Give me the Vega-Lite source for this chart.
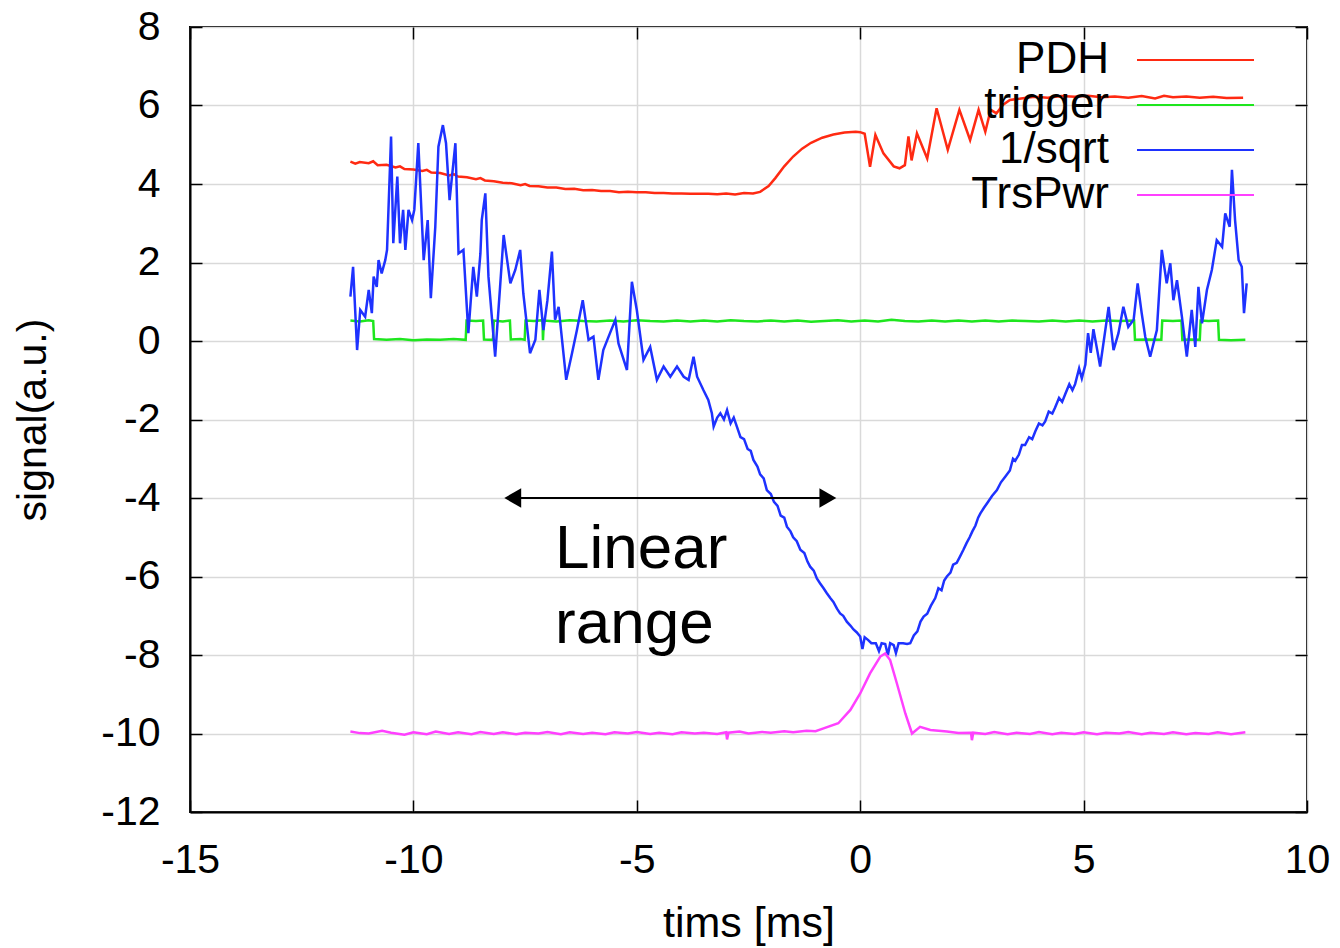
{
"$schema": "https://vega.github.io/schema/vega-lite/v6.json",
"width": 1117, "height": 785,
"autosize": {"type": "none"},
"padding": {"left": 190, "top": 27, "right": 33, "bottom": 136},
"background": "white",
"config": {
  "font": "Liberation Sans",
  "view": {"stroke": "black", "strokeWidth": 2},
  "axis": {"labelFont": "Liberation Sans", "labelFontSize": 41, "labelColor": "black", "titleFont": "Liberation Sans", "titleFontWeight": "normal", "titleColor": "black", "tickColor": "black", "tickWidth": 1.5, "tickSize": -12, "domainColor": "black", "domainWidth": 2, "gridColor": "#d9d9d9", "gridWidth": 1.5, "labelFlush": false, "labelOverlap": false, "labelBound": false, "labelExpr": "'' + datum.value"}
},
"data": {"values": [
{"s":"PDH","t":-11.41,"v":4.57},{"s":"PDH","t":-11.3,"v":4.52},{"s":"PDH","t":-11.2,"v":4.56},{"s":"PDH","t":-11.0,"v":4.53},{"s":"PDH","t":-10.9,"v":4.58},{"s":"PDH","t":-10.8,"v":4.48},{"s":"PDH","t":-10.6,"v":4.49},{"s":"PDH","t":-10.4,"v":4.42},{"s":"PDH","t":-10.3,"v":4.45},{"s":"PDH","t":-10.2,"v":4.38},{"s":"PDH","t":-10.0,"v":4.37},{"s":"PDH","t":-9.8,"v":4.33},{"s":"PDH","t":-9.7,"v":4.36},{"s":"PDH","t":-9.6,"v":4.29},{"s":"PDH","t":-9.4,"v":4.28},{"s":"PDH","t":-9.2,"v":4.22},{"s":"PDH","t":-9.1,"v":4.25},{"s":"PDH","t":-9.0,"v":4.19},{"s":"PDH","t":-8.8,"v":4.17},{"s":"PDH","t":-8.6,"v":4.12},{"s":"PDH","t":-8.5,"v":4.15},{"s":"PDH","t":-8.4,"v":4.09},{"s":"PDH","t":-8.2,"v":4.07},{"s":"PDH","t":-8.0,"v":4.03},{"s":"PDH","t":-7.8,"v":4.02},{"s":"PDH","t":-7.6,"v":3.97},{"s":"PDH","t":-7.5,"v":4.0},{"s":"PDH","t":-7.4,"v":3.95},{"s":"PDH","t":-7.2,"v":3.94},{"s":"PDH","t":-7.0,"v":3.91},{"s":"PDH","t":-6.8,"v":3.91},{"s":"PDH","t":-6.6,"v":3.87},{"s":"PDH","t":-6.4,"v":3.88},{"s":"PDH","t":-6.2,"v":3.84},{"s":"PDH","t":-6.0,"v":3.85},{"s":"PDH","t":-5.8,"v":3.82},{"s":"PDH","t":-5.6,"v":3.82},{"s":"PDH","t":-5.4,"v":3.79},{"s":"PDH","t":-5.2,"v":3.8},{"s":"PDH","t":-5.0,"v":3.79},{"s":"PDH","t":-4.8,"v":3.79},{"s":"PDH","t":-4.6,"v":3.77},{"s":"PDH","t":-4.4,"v":3.77},{"s":"PDH","t":-4.2,"v":3.76},{"s":"PDH","t":-4.0,"v":3.76},{"s":"PDH","t":-3.8,"v":3.75},{"s":"PDH","t":-3.6,"v":3.75},{"s":"PDH","t":-3.4,"v":3.75},{"s":"PDH","t":-3.2,"v":3.74},{"s":"PDH","t":-3.0,"v":3.76},{"s":"PDH","t":-2.8,"v":3.73},{"s":"PDH","t":-2.6,"v":3.77},{"s":"PDH","t":-2.4,"v":3.76},{"s":"PDH","t":-2.24,"v":3.8},{"s":"PDH","t":-2.05,"v":3.95},{"s":"PDH","t":-1.9,"v":4.15},{"s":"PDH","t":-1.7,"v":4.45},{"s":"PDH","t":-1.5,"v":4.7},{"s":"PDH","t":-1.3,"v":4.9},{"s":"PDH","t":-1.1,"v":5.05},{"s":"PDH","t":-0.85,"v":5.18},{"s":"PDH","t":-0.6,"v":5.26},{"s":"PDH","t":-0.35,"v":5.31},{"s":"PDH","t":-0.1,"v":5.33},{"s":"PDH","t":0.0,"v":5.32},{"s":"PDH","t":0.1,"v":5.28},{"s":"PDH","t":0.22,"v":4.44},{"s":"PDH","t":0.34,"v":5.25},{"s":"PDH","t":0.52,"v":4.78},{"s":"PDH","t":0.75,"v":4.45},{"s":"PDH","t":0.88,"v":4.4},{"s":"PDH","t":1.0,"v":4.48},{"s":"PDH","t":1.08,"v":5.21},{"s":"PDH","t":1.15,"v":4.6},{"s":"PDH","t":1.27,"v":5.29},{"s":"PDH","t":1.5,"v":4.65},{"s":"PDH","t":1.71,"v":5.93},{"s":"PDH","t":1.96,"v":4.87},{"s":"PDH","t":2.22,"v":5.89},{"s":"PDH","t":2.46,"v":5.12},{"s":"PDH","t":2.65,"v":5.89},{"s":"PDH","t":2.8,"v":5.33},{"s":"PDH","t":2.92,"v":5.89},{"s":"PDH","t":3.05,"v":5.8},{"s":"PDH","t":3.2,"v":6.02},{"s":"PDH","t":3.35,"v":6.14},{"s":"PDH","t":3.6,"v":6.18},{"s":"PDH","t":3.9,"v":6.22},{"s":"PDH","t":4.2,"v":6.2},{"s":"PDH","t":4.5,"v":6.24},{"s":"PDH","t":4.8,"v":6.22},{"s":"PDH","t":5.1,"v":6.25},{"s":"PDH","t":5.4,"v":6.21},{"s":"PDH","t":5.7,"v":6.23},{"s":"PDH","t":6.0,"v":6.2},{"s":"PDH","t":6.3,"v":6.24},{"s":"PDH","t":6.6,"v":6.18},{"s":"PDH","t":6.8,"v":6.25},{"s":"PDH","t":7.0,"v":6.21},{"s":"PDH","t":7.3,"v":6.23},{"s":"PDH","t":7.6,"v":6.2},{"s":"PDH","t":7.9,"v":6.22},{"s":"PDH","t":8.2,"v":6.19},{"s":"PDH","t":8.57,"v":6.2},
{"s":"trigger","t":-11.41,"v":0.52},{"s":"trigger","t":-11.2,"v":0.5},{"s":"trigger","t":-11.0,"v":0.53},{"s":"trigger","t":-10.9,"v":0.51},{"s":"trigger","t":-10.88,"v":0.05},{"s":"trigger","t":-10.6,"v":0.03},{"s":"trigger","t":-10.3,"v":0.05},{"s":"trigger","t":-10.0,"v":0.02},{"s":"trigger","t":-9.7,"v":0.04},{"s":"trigger","t":-9.4,"v":0.03},{"s":"trigger","t":-9.1,"v":0.05},{"s":"trigger","t":-8.83,"v":0.03},{"s":"trigger","t":-8.81,"v":0.52},{"s":"trigger","t":-8.6,"v":0.51},{"s":"trigger","t":-8.44,"v":0.52},{"s":"trigger","t":-8.42,"v":0.04},{"s":"trigger","t":-8.22,"v":0.03},{"s":"trigger","t":-8.2,"v":0.52},{"s":"trigger","t":-8.0,"v":0.5},{"s":"trigger","t":-7.84,"v":0.52},{"s":"trigger","t":-7.82,"v":0.04},{"s":"trigger","t":-7.6,"v":0.05},{"s":"trigger","t":-7.51,"v":0.03},{"s":"trigger","t":-7.49,"v":0.52},{"s":"trigger","t":-7.3,"v":0.51},{"s":"trigger","t":-7.11,"v":0.53},{"s":"trigger","t":-7.1,"v":0.02},{"s":"trigger","t":-7.08,"v":0.52},{"s":"trigger","t":-6.8,"v":0.5},{"s":"trigger","t":-6.5,"v":0.53},{"s":"trigger","t":-6.2,"v":0.51},{"s":"trigger","t":-5.9,"v":0.5},{"s":"trigger","t":-5.6,"v":0.52},{"s":"trigger","t":-5.3,"v":0.5},{"s":"trigger","t":-5.0,"v":0.53},{"s":"trigger","t":-4.7,"v":0.51},{"s":"trigger","t":-4.4,"v":0.5},{"s":"trigger","t":-4.1,"v":0.52},{"s":"trigger","t":-3.8,"v":0.5},{"s":"trigger","t":-3.5,"v":0.52},{"s":"trigger","t":-3.2,"v":0.5},{"s":"trigger","t":-2.9,"v":0.53},{"s":"trigger","t":-2.6,"v":0.51},{"s":"trigger","t":-2.3,"v":0.5},{"s":"trigger","t":-2.0,"v":0.52},{"s":"trigger","t":-1.7,"v":0.5},{"s":"trigger","t":-1.4,"v":0.52},{"s":"trigger","t":-1.1,"v":0.49},{"s":"trigger","t":-0.8,"v":0.51},{"s":"trigger","t":-0.5,"v":0.53},{"s":"trigger","t":-0.2,"v":0.5},{"s":"trigger","t":0.1,"v":0.52},{"s":"trigger","t":0.4,"v":0.5},{"s":"trigger","t":0.7,"v":0.54},{"s":"trigger","t":1.0,"v":0.51},{"s":"trigger","t":1.3,"v":0.5},{"s":"trigger","t":1.6,"v":0.52},{"s":"trigger","t":1.9,"v":0.5},{"s":"trigger","t":2.2,"v":0.52},{"s":"trigger","t":2.5,"v":0.5},{"s":"trigger","t":2.8,"v":0.52},{"s":"trigger","t":3.1,"v":0.5},{"s":"trigger","t":3.4,"v":0.52},{"s":"trigger","t":3.7,"v":0.51},{"s":"trigger","t":4.0,"v":0.5},{"s":"trigger","t":4.3,"v":0.52},{"s":"trigger","t":4.6,"v":0.5},{"s":"trigger","t":4.9,"v":0.52},{"s":"trigger","t":5.2,"v":0.5},{"s":"trigger","t":5.5,"v":0.52},{"s":"trigger","t":5.8,"v":0.51},{"s":"trigger","t":6.13,"v":0.52},{"s":"trigger","t":6.15,"v":0.03},{"s":"trigger","t":6.4,"v":0.04},{"s":"trigger","t":6.74,"v":0.03},{"s":"trigger","t":6.76,"v":0.52},{"s":"trigger","t":7.0,"v":0.51},{"s":"trigger","t":7.19,"v":0.52},{"s":"trigger","t":7.21,"v":0.03},{"s":"trigger","t":7.4,"v":0.04},{"s":"trigger","t":7.6,"v":0.03},{"s":"trigger","t":7.62,"v":0.52},{"s":"trigger","t":7.8,"v":0.51},{"s":"trigger","t":8.01,"v":0.52},{"s":"trigger","t":8.03,"v":0.03},{"s":"trigger","t":8.3,"v":0.02},{"s":"trigger","t":8.62,"v":0.03},
{"s":"1/sqrt","t":-11.41,"v":1.13},{"s":"1/sqrt","t":-11.35,"v":1.89},{"s":"1/sqrt","t":-11.26,"v":-0.23},{"s":"1/sqrt","t":-11.19,"v":0.79},{"s":"1/sqrt","t":-11.08,"v":0.62},{"s":"1/sqrt","t":-11.0,"v":1.3},{"s":"1/sqrt","t":-10.93,"v":0.71},{"s":"1/sqrt","t":-10.89,"v":1.64},{"s":"1/sqrt","t":-10.82,"v":1.38},{"s":"1/sqrt","t":-10.78,"v":2.06},{"s":"1/sqrt","t":-10.71,"v":1.72},{"s":"1/sqrt","t":-10.63,"v":2.06},{"s":"1/sqrt","t":-10.59,"v":2.32},{"s":"1/sqrt","t":-10.5,"v":5.21},{"s":"1/sqrt","t":-10.45,"v":2.49},{"s":"1/sqrt","t":-10.36,"v":4.19},{"s":"1/sqrt","t":-10.3,"v":2.49},{"s":"1/sqrt","t":-10.23,"v":3.34},{"s":"1/sqrt","t":-10.18,"v":2.32},{"s":"1/sqrt","t":-10.11,"v":3.34},{"s":"1/sqrt","t":-10.03,"v":3.08},{"s":"1/sqrt","t":-9.98,"v":3.34},{"s":"1/sqrt","t":-9.89,"v":5.04},{"s":"1/sqrt","t":-9.77,"v":2.06},{"s":"1/sqrt","t":-9.68,"v":3.08},{"s":"1/sqrt","t":-9.61,"v":1.09},{"s":"1/sqrt","t":-9.51,"v":2.91},{"s":"1/sqrt","t":-9.44,"v":4.95},{"s":"1/sqrt","t":-9.34,"v":5.5},{"s":"1/sqrt","t":-9.27,"v":5.04},{"s":"1/sqrt","t":-9.19,"v":3.59},{"s":"1/sqrt","t":-9.06,"v":5.04},{"s":"1/sqrt","t":-8.99,"v":2.23},{"s":"1/sqrt","t":-8.88,"v":2.32},{"s":"1/sqrt","t":-8.77,"v":0.2},{"s":"1/sqrt","t":-8.66,"v":1.89},{"s":"1/sqrt","t":-8.58,"v":1.13},{"s":"1/sqrt","t":-8.5,"v":2.23},{"s":"1/sqrt","t":-8.47,"v":3.08},{"s":"1/sqrt","t":-8.39,"v":3.76},{"s":"1/sqrt","t":-8.32,"v":1.64},{"s":"1/sqrt","t":-8.17,"v":-0.4},{"s":"1/sqrt","t":-8.06,"v":1.38},{"s":"1/sqrt","t":-7.98,"v":2.7},{"s":"1/sqrt","t":-7.83,"v":1.47},{"s":"1/sqrt","t":-7.72,"v":1.81},{"s":"1/sqrt","t":-7.61,"v":2.32},{"s":"1/sqrt","t":-7.54,"v":1.21},{"s":"1/sqrt","t":-7.39,"v":-0.31},{"s":"1/sqrt","t":-7.27,"v":0.03},{"s":"1/sqrt","t":-7.18,"v":1.3},{"s":"1/sqrt","t":-7.09,"v":0.28},{"s":"1/sqrt","t":-7.0,"v":1.04},{"s":"1/sqrt","t":-6.9,"v":2.28},{"s":"1/sqrt","t":-6.83,"v":0.54},{"s":"1/sqrt","t":-6.75,"v":0.87},{"s":"1/sqrt","t":-6.58,"v":-0.99},{"s":"1/sqrt","t":-6.45,"v":-0.31},{"s":"1/sqrt","t":-6.34,"v":0.28},{"s":"1/sqrt","t":-6.21,"v":1.04},{"s":"1/sqrt","t":-6.08,"v":0.03},{"s":"1/sqrt","t":-5.97,"v":0.11},{"s":"1/sqrt","t":-5.86,"v":-0.99},{"s":"1/sqrt","t":-5.75,"v":-0.23},{"s":"1/sqrt","t":-5.6,"v":0.2},{"s":"1/sqrt","t":-5.48,"v":0.54},{"s":"1/sqrt","t":-5.41,"v":-0.06},{"s":"1/sqrt","t":-5.22,"v":-0.74},{"s":"1/sqrt","t":-5.11,"v":1.51},{"s":"1/sqrt","t":-5.0,"v":0.79},{"s":"1/sqrt","t":-4.85,"v":-0.48},{"s":"1/sqrt","t":-4.7,"v":-0.15},{"s":"1/sqrt","t":-4.55,"v":-0.99},{"s":"1/sqrt","t":-4.4,"v":-0.65},{"s":"1/sqrt","t":-4.25,"v":-0.91},{"s":"1/sqrt","t":-4.1,"v":-0.65},{"s":"1/sqrt","t":-3.95,"v":-0.91},{"s":"1/sqrt","t":-3.84,"v":-0.99},{"s":"1/sqrt","t":-3.73,"v":-0.4},{"s":"1/sqrt","t":-3.65,"v":-0.91},{"s":"1/sqrt","t":-3.51,"v":-1.25},{"s":"1/sqrt","t":-3.4,"v":-1.5},{"s":"1/sqrt","t":-3.32,"v":-1.84},{"s":"1/sqrt","t":-3.28,"v":-2.18},{"s":"1/sqrt","t":-3.2,"v":-1.95},{"s":"1/sqrt","t":-3.13,"v":-1.84},{"s":"1/sqrt","t":-3.05,"v":-2.0},{"s":"1/sqrt","t":-2.98,"v":-1.76},{"s":"1/sqrt","t":-2.9,"v":-2.1},{"s":"1/sqrt","t":-2.83,"v":-1.95},{"s":"1/sqrt","t":-2.76,"v":-2.18},{"s":"1/sqrt","t":-2.68,"v":-2.45},{"s":"1/sqrt","t":-2.6,"v":-2.5},{"s":"1/sqrt","t":-2.52,"v":-2.75},{"s":"1/sqrt","t":-2.45,"v":-2.8},{"s":"1/sqrt","t":-2.39,"v":-3.03},{"s":"1/sqrt","t":-2.3,"v":-3.2},{"s":"1/sqrt","t":-2.24,"v":-3.4},{"s":"1/sqrt","t":-2.16,"v":-3.5},{"s":"1/sqrt","t":-2.09,"v":-3.8},{"s":"1/sqrt","t":-2.0,"v":-3.9},{"s":"1/sqrt","t":-1.93,"v":-4.1},{"s":"1/sqrt","t":-1.85,"v":-4.2},{"s":"1/sqrt","t":-1.78,"v":-4.45},{"s":"1/sqrt","t":-1.7,"v":-4.5},{"s":"1/sqrt","t":-1.64,"v":-4.73},{"s":"1/sqrt","t":-1.56,"v":-4.85},{"s":"1/sqrt","t":-1.5,"v":-5.0},{"s":"1/sqrt","t":-1.42,"v":-5.1},{"s":"1/sqrt","t":-1.34,"v":-5.32},{"s":"1/sqrt","t":-1.25,"v":-5.4},{"s":"1/sqrt","t":-1.18,"v":-5.62},{"s":"1/sqrt","t":-1.12,"v":-5.75},{"s":"1/sqrt","t":-1.04,"v":-5.85},{"s":"1/sqrt","t":-0.97,"v":-6.05},{"s":"1/sqrt","t":-0.9,"v":-6.17},{"s":"1/sqrt","t":-0.82,"v":-6.3},{"s":"1/sqrt","t":-0.75,"v":-6.42},{"s":"1/sqrt","t":-0.67,"v":-6.55},{"s":"1/sqrt","t":-0.6,"v":-6.65},{"s":"1/sqrt","t":-0.52,"v":-6.82},{"s":"1/sqrt","t":-0.45,"v":-6.94},{"s":"1/sqrt","t":-0.38,"v":-7.0},{"s":"1/sqrt","t":-0.3,"v":-7.15},{"s":"1/sqrt","t":-0.22,"v":-7.25},{"s":"1/sqrt","t":-0.15,"v":-7.35},{"s":"1/sqrt","t":-0.08,"v":-7.42},{"s":"1/sqrt","t":0.0,"v":-7.53},{"s":"1/sqrt","t":0.05,"v":-7.85},{"s":"1/sqrt","t":0.1,"v":-7.55},{"s":"1/sqrt","t":0.18,"v":-7.62},{"s":"1/sqrt","t":0.25,"v":-7.7},{"s":"1/sqrt","t":0.35,"v":-7.7},{"s":"1/sqrt","t":0.42,"v":-7.9},{"s":"1/sqrt","t":0.48,"v":-7.7},{"s":"1/sqrt","t":0.56,"v":-7.72},{"s":"1/sqrt","t":0.62,"v":-8.0},{"s":"1/sqrt","t":0.67,"v":-7.7},{"s":"1/sqrt","t":0.75,"v":-7.75},{"s":"1/sqrt","t":0.8,"v":-7.95},{"s":"1/sqrt","t":0.86,"v":-7.7},{"s":"1/sqrt","t":0.96,"v":-7.7},{"s":"1/sqrt","t":1.05,"v":-7.72},{"s":"1/sqrt","t":1.12,"v":-7.7},{"s":"1/sqrt","t":1.2,"v":-7.5},{"s":"1/sqrt","t":1.28,"v":-7.4},{"s":"1/sqrt","t":1.35,"v":-7.15},{"s":"1/sqrt","t":1.42,"v":-7.02},{"s":"1/sqrt","t":1.5,"v":-6.95},{"s":"1/sqrt","t":1.58,"v":-6.75},{"s":"1/sqrt","t":1.68,"v":-6.55},{"s":"1/sqrt","t":1.75,"v":-6.3},{"s":"1/sqrt","t":1.82,"v":-6.35},{"s":"1/sqrt","t":1.88,"v":-6.1},{"s":"1/sqrt","t":1.94,"v":-6.0},{"s":"1/sqrt","t":2.02,"v":-5.9},{"s":"1/sqrt","t":2.08,"v":-5.7},{"s":"1/sqrt","t":2.16,"v":-5.65},{"s":"1/sqrt","t":2.23,"v":-5.5},{"s":"1/sqrt","t":2.31,"v":-5.32},{"s":"1/sqrt","t":2.38,"v":-5.15},{"s":"1/sqrt","t":2.45,"v":-5.0},{"s":"1/sqrt","t":2.51,"v":-4.85},{"s":"1/sqrt","t":2.58,"v":-4.7},{"s":"1/sqrt","t":2.64,"v":-4.5},{"s":"1/sqrt","t":2.69,"v":-4.39},{"s":"1/sqrt","t":2.77,"v":-4.25},{"s":"1/sqrt","t":2.86,"v":-4.1},{"s":"1/sqrt","t":2.95,"v":-3.95},{"s":"1/sqrt","t":3.06,"v":-3.8},{"s":"1/sqrt","t":3.15,"v":-3.6},{"s":"1/sqrt","t":3.25,"v":-3.45},{"s":"1/sqrt","t":3.35,"v":-3.3},{"s":"1/sqrt","t":3.42,"v":-3.0},{"s":"1/sqrt","t":3.47,"v":-3.05},{"s":"1/sqrt","t":3.55,"v":-2.9},{"s":"1/sqrt","t":3.62,"v":-2.65},{"s":"1/sqrt","t":3.69,"v":-2.65},{"s":"1/sqrt","t":3.78,"v":-2.45},{"s":"1/sqrt","t":3.85,"v":-2.5},{"s":"1/sqrt","t":3.92,"v":-2.3},{"s":"1/sqrt","t":4.0,"v":-2.1},{"s":"1/sqrt","t":4.08,"v":-2.15},{"s":"1/sqrt","t":4.14,"v":-2.05},{"s":"1/sqrt","t":4.22,"v":-1.8},{"s":"1/sqrt","t":4.3,"v":-1.85},{"s":"1/sqrt","t":4.36,"v":-1.7},{"s":"1/sqrt","t":4.45,"v":-1.45},{"s":"1/sqrt","t":4.52,"v":-1.55},{"s":"1/sqrt","t":4.59,"v":-1.35},{"s":"1/sqrt","t":4.68,"v":-1.1},{"s":"1/sqrt","t":4.75,"v":-1.25},{"s":"1/sqrt","t":4.81,"v":-1.1},{"s":"1/sqrt","t":4.9,"v":-0.7},{"s":"1/sqrt","t":4.96,"v":-0.95},{"s":"1/sqrt","t":5.04,"v":-0.6},{"s":"1/sqrt","t":5.1,"v":0.2},{"s":"1/sqrt","t":5.16,"v":-0.3},{"s":"1/sqrt","t":5.22,"v":0.3},{"s":"1/sqrt","t":5.3,"v":-0.2},{"s":"1/sqrt","t":5.37,"v":-0.65},{"s":"1/sqrt","t":5.56,"v":0.87},{"s":"1/sqrt","t":5.67,"v":-0.23},{"s":"1/sqrt","t":5.78,"v":0.2},{"s":"1/sqrt","t":5.89,"v":0.87},{"s":"1/sqrt","t":6.0,"v":0.36},{"s":"1/sqrt","t":6.12,"v":0.54},{"s":"1/sqrt","t":6.21,"v":1.47},{"s":"1/sqrt","t":6.3,"v":0.71},{"s":"1/sqrt","t":6.38,"v":0.11},{"s":"1/sqrt","t":6.49,"v":-0.4},{"s":"1/sqrt","t":6.64,"v":0.28},{"s":"1/sqrt","t":6.75,"v":2.32},{"s":"1/sqrt","t":6.86,"v":1.47},{"s":"1/sqrt","t":6.94,"v":1.98},{"s":"1/sqrt","t":7.01,"v":1.04},{"s":"1/sqrt","t":7.09,"v":1.55},{"s":"1/sqrt","t":7.2,"v":0.62},{"s":"1/sqrt","t":7.31,"v":-0.4},{"s":"1/sqrt","t":7.42,"v":0.79},{"s":"1/sqrt","t":7.5,"v":-0.15},{"s":"1/sqrt","t":7.57,"v":1.38},{"s":"1/sqrt","t":7.65,"v":0.45},{"s":"1/sqrt","t":7.76,"v":1.3},{"s":"1/sqrt","t":7.87,"v":1.81},{"s":"1/sqrt","t":7.98,"v":2.57},{"s":"1/sqrt","t":8.1,"v":2.4},{"s":"1/sqrt","t":8.17,"v":3.25},{"s":"1/sqrt","t":8.27,"v":2.91},{"s":"1/sqrt","t":8.32,"v":4.36},{"s":"1/sqrt","t":8.39,"v":3.08},{"s":"1/sqrt","t":8.47,"v":2.06},{"s":"1/sqrt","t":8.54,"v":1.89},{"s":"1/sqrt","t":8.59,"v":0.71},{"s":"1/sqrt","t":8.65,"v":1.47},
{"s":"TrsPwr","t":-11.41,"v":-9.95},{"s":"TrsPwr","t":-11.2,"v":-9.99},{"s":"TrsPwr","t":-11.0,"v":-10.0},{"s":"TrsPwr","t":-10.7,"v":-9.93},{"s":"TrsPwr","t":-10.5,"v":-9.98},{"s":"TrsPwr","t":-10.2,"v":-10.03},{"s":"TrsPwr","t":-10.0,"v":-9.97},{"s":"TrsPwr","t":-9.7,"v":-10.02},{"s":"TrsPwr","t":-9.5,"v":-9.95},{"s":"TrsPwr","t":-9.2,"v":-10.01},{"s":"TrsPwr","t":-9.0,"v":-9.97},{"s":"TrsPwr","t":-8.7,"v":-10.02},{"s":"TrsPwr","t":-8.5,"v":-9.96},{"s":"TrsPwr","t":-8.2,"v":-10.01},{"s":"TrsPwr","t":-8.0,"v":-9.97},{"s":"TrsPwr","t":-7.7,"v":-10.02},{"s":"TrsPwr","t":-7.5,"v":-9.98},{"s":"TrsPwr","t":-7.2,"v":-10.0},{"s":"TrsPwr","t":-7.0,"v":-9.96},{"s":"TrsPwr","t":-6.7,"v":-10.02},{"s":"TrsPwr","t":-6.5,"v":-9.97},{"s":"TrsPwr","t":-6.2,"v":-10.01},{"s":"TrsPwr","t":-6.0,"v":-9.98},{"s":"TrsPwr","t":-5.7,"v":-10.02},{"s":"TrsPwr","t":-5.5,"v":-9.97},{"s":"TrsPwr","t":-5.2,"v":-10.0},{"s":"TrsPwr","t":-5.0,"v":-9.96},{"s":"TrsPwr","t":-4.7,"v":-10.01},{"s":"TrsPwr","t":-4.5,"v":-9.98},{"s":"TrsPwr","t":-4.2,"v":-10.02},{"s":"TrsPwr","t":-4.0,"v":-9.97},{"s":"TrsPwr","t":-3.7,"v":-10.0},{"s":"TrsPwr","t":-3.5,"v":-9.98},{"s":"TrsPwr","t":-3.2,"v":-10.01},{"s":"TrsPwr","t":-3.0,"v":-9.97},{"s":"TrsPwr","t":-2.98,"v":-10.15},{"s":"TrsPwr","t":-2.95,"v":-9.98},{"s":"TrsPwr","t":-2.7,"v":-9.95},{"s":"TrsPwr","t":-2.5,"v":-10.0},{"s":"TrsPwr","t":-2.2,"v":-9.96},{"s":"TrsPwr","t":-2.0,"v":-9.98},{"s":"TrsPwr","t":-1.7,"v":-9.94},{"s":"TrsPwr","t":-1.5,"v":-9.97},{"s":"TrsPwr","t":-1.2,"v":-9.93},{"s":"TrsPwr","t":-1.0,"v":-9.94},{"s":"TrsPwr","t":-0.82,"v":-9.87},{"s":"TrsPwr","t":-0.49,"v":-9.74},{"s":"TrsPwr","t":-0.22,"v":-9.4},{"s":"TrsPwr","t":0.0,"v":-8.98},{"s":"TrsPwr","t":0.22,"v":-8.47},{"s":"TrsPwr","t":0.45,"v":-8.04},{"s":"TrsPwr","t":0.56,"v":-7.96},{"s":"TrsPwr","t":0.67,"v":-8.13},{"s":"TrsPwr","t":0.82,"v":-8.72},{"s":"TrsPwr","t":1.01,"v":-9.49},{"s":"TrsPwr","t":1.16,"v":-10.0},{"s":"TrsPwr","t":1.34,"v":-9.83},{"s":"TrsPwr","t":1.57,"v":-9.91},{"s":"TrsPwr","t":1.94,"v":-9.95},{"s":"TrsPwr","t":2.2,"v":-9.99},{"s":"TrsPwr","t":2.48,"v":-9.98},{"s":"TrsPwr","t":2.5,"v":-10.17},{"s":"TrsPwr","t":2.53,"v":-9.98},{"s":"TrsPwr","t":2.8,"v":-10.01},{"s":"TrsPwr","t":3.0,"v":-9.96},{"s":"TrsPwr","t":3.3,"v":-10.02},{"s":"TrsPwr","t":3.5,"v":-9.98},{"s":"TrsPwr","t":3.8,"v":-10.01},{"s":"TrsPwr","t":4.0,"v":-9.96},{"s":"TrsPwr","t":4.3,"v":-10.02},{"s":"TrsPwr","t":4.5,"v":-9.98},{"s":"TrsPwr","t":4.8,"v":-10.01},{"s":"TrsPwr","t":5.0,"v":-9.97},{"s":"TrsPwr","t":5.3,"v":-10.02},{"s":"TrsPwr","t":5.5,"v":-9.98},{"s":"TrsPwr","t":5.8,"v":-10.0},{"s":"TrsPwr","t":6.0,"v":-9.96},{"s":"TrsPwr","t":6.3,"v":-10.02},{"s":"TrsPwr","t":6.5,"v":-9.98},{"s":"TrsPwr","t":6.8,"v":-10.01},{"s":"TrsPwr","t":7.0,"v":-9.97},{"s":"TrsPwr","t":7.3,"v":-10.02},{"s":"TrsPwr","t":7.5,"v":-9.99},{"s":"TrsPwr","t":7.8,"v":-10.01},{"s":"TrsPwr","t":8.0,"v":-9.97},{"s":"TrsPwr","t":8.3,"v":-10.02},{"s":"TrsPwr","t":8.62,"v":-9.97}
]},
"layer": [
  {
    "mark": {"type": "line", "strokeWidth": 2.5},
    "encoding": {
      "x": {"field": "t", "type": "quantitative", "scale": {"domain": [-15, 10], "nice": false, "zero": false},
            "axis": {"orient": "bottom", "values": [-15, -10, -5, 0, 5, 10], "labelPadding": 40, "title": "tims [ms]", "titleFontSize": 43, "titleX": 558.5, "titleY": 124, "titleBaseline": "alphabetic", "grid": true}},
      "y": {"field": "v", "type": "quantitative", "scale": {"domain": [-12, 8], "nice": false, "zero": false},
            "axis": {"orient": "left", "values": [-12, -10, -8, -6, -4, -2, 0, 2, 4, 6, 8], "labelPadding": 42, "labelBaseline": "middle", "title": "signal(a.u.)", "titleFontSize": 41, "titleAngle": -90, "titleX": -145, "titleY": 392.5, "titleBaseline": "alphabetic", "grid": true}},
      "color": {"field": "s", "type": "nominal",
                "scale": {"domain": ["PDH", "trigger", "1/sqrt", "TrsPwr"], "range": ["#ff2a12", "#1ee61e", "#1e32ff", "#ff40ff"]},
                "legend": {"orient": "none", "legendX": 983.5, "legendY": 11, "title": null, "symbolType": "M-9.75,0H9.75", "symbolSize": 144, "symbolStrokeWidth": 2, "labelFontSize": 44, "labelFont": "Liberation Sans", "labelColor": "black", "labelAlign": "right", "labelOffset": -108.5, "rowPadding": 1, "padding": 0, "labelLimit": 0}}
    }
  },
  {
    "data": {"values": [{}]},
    "mark": {"type": "text", "text": "Linear", "fontSize": 62, "align": "left", "baseline": "alphabetic", "font": "Liberation Sans", "color": "black"},
    "encoding": {
      "x": {"datum": -6.83, "type": "quantitative", "axis": {"orient": "top", "values": [-15, -10, -5, 0, 5, 10], "labels": false, "grid": false, "title": null, "domain": false}},
      "y": {"datum": -5.78, "type": "quantitative", "axis": {"orient": "right", "values": [-12, -10, -8, -6, -4, -2, 0, 2, 4, 6, 8], "labels": false, "grid": false, "title": null, "domain": false}}
    }
  },
  {
    "data": {"values": [{}]},
    "mark": {"type": "text", "text": "range", "fontSize": 62, "align": "left", "baseline": "alphabetic", "font": "Liberation Sans", "color": "black"},
    "encoding": {
      "x": {"datum": -6.83, "type": "quantitative", "axis": null},
      "y": {"datum": -7.69, "type": "quantitative", "axis": null}
    }
  },
  {
    "data": {"values": [{}]},
    "mark": {"type": "rule", "color": "black", "strokeWidth": 2},
    "encoding": {
      "x": {"datum": -7.8, "type": "quantitative", "axis": null},
      "x2": {"datum": -0.7},
      "y": {"datum": -4, "type": "quantitative", "axis": null}
    }
  },
  {
    "data": {"values": [{}]},
    "mark": {"type": "point", "shape": "triangle-right", "size": 380, "filled": true, "color": "black", "opacity": 1, "xOffset": -10},
    "encoding": {
      "x": {"datum": -0.5, "type": "quantitative", "axis": null},
      "y": {"datum": -4, "type": "quantitative", "axis": null}
    }
  },
  {
    "data": {"values": [{}]},
    "mark": {"type": "point", "shape": "triangle-left", "size": 380, "filled": true, "color": "black", "opacity": 1, "xOffset": 10},
    "encoding": {
      "x": {"datum": -8, "type": "quantitative", "axis": null},
      "y": {"datum": -4, "type": "quantitative", "axis": null}
    }
  }
],
"resolve": {"axis": {"x": "independent", "y": "independent"}}
}
